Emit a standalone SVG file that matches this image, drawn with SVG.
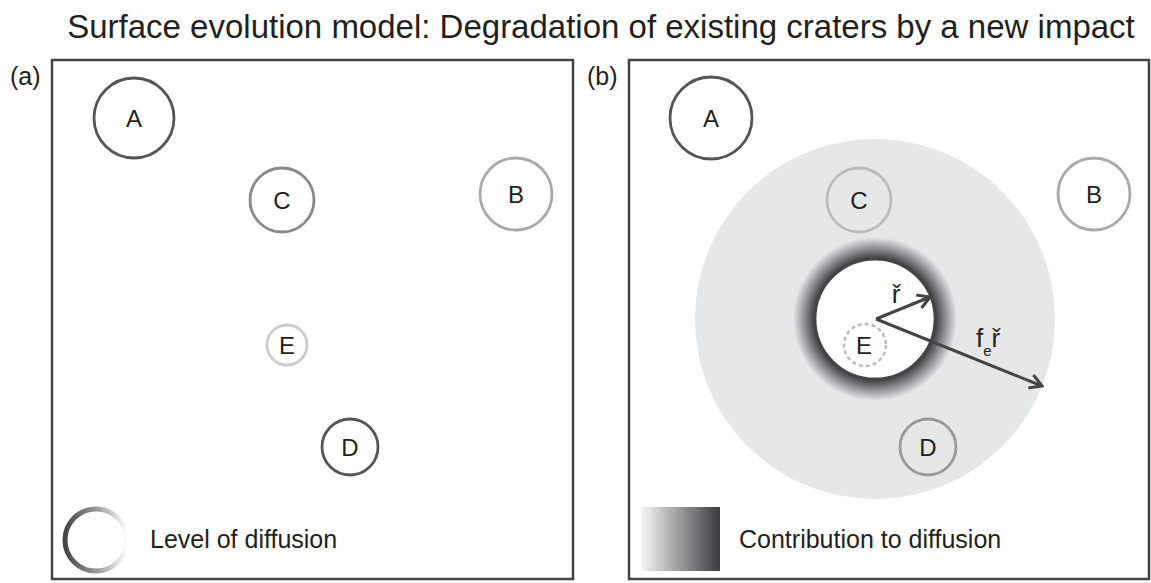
<svg xmlns="http://www.w3.org/2000/svg" width="1151" height="583" viewBox="0 0 1151 583">
<style>
text{font-family:"Liberation Sans",Arial,sans-serif;fill:#231f20}
.lbl{font-size:24px;text-anchor:middle}
.panel{fill:#fff;stroke:#444;stroke-width:2.5}
.cr{fill:none;stroke-width:2.8}
.arrow{fill:none;stroke:#444;stroke-width:3}
</style>
<defs>
<linearGradient id="ringGrad" x1="0" y1="0" x2="1" y2="0">
<stop offset="0" stop-color="#444"/>
<stop offset="0.5" stop-color="#999"/>
<stop offset="1" stop-color="#fff"/>
</linearGradient>
<linearGradient id="barGrad" x1="0" y1="0" x2="1" y2="0">
<stop offset="0" stop-color="#f6f6f8"/>
<stop offset="1" stop-color="#3c3c40"/>
</linearGradient>
<radialGradient id="haloGrad" cx="0.5" cy="0.5" r="0.5">
<stop offset="0" stop-color="#333336"/>
<stop offset="0.72" stop-color="#333336"/>
<stop offset="0.85" stop-color="#88888c"/>
<stop offset="1" stop-color="#e6e7e9"/>
</radialGradient>
<marker id="head" viewBox="0 0 16 16" markerWidth="16" markerHeight="16" markerUnits="userSpaceOnUse" refX="14" refY="8" orient="auto">
<path d="M2,1 L14,8 L2,15" fill="none" stroke="#444" stroke-width="3"/>
</marker>
</defs>

<text x="601" y="38" style="font-size:33px;text-anchor:middle">Surface evolution model: Degradation of existing craters by a new impact</text>

<!-- Panel (a) -->
<g id="panel-a">
<text x="10" y="85" style="font-size:25px">(a)</text>
<rect class="panel" x="52" y="60" width="521" height="519"/>
</g>
<g id="a-A"><circle class="cr" cx="134" cy="118" r="40" stroke="#555"/><text class="lbl" x="134" y="127">A</text></g>
<g id="a-C"><circle class="cr" cx="282" cy="200" r="32" stroke="#888"/><text class="lbl" x="282" y="209">C</text></g>
<g id="a-B"><circle class="cr" cx="516" cy="194" r="36" stroke="#aaa"/><text class="lbl" x="516" y="203">B</text></g>
<g id="a-E"><circle class="cr" cx="287" cy="345" r="20" stroke="#ccc"/><text class="lbl" x="287" y="354">E</text></g>
<g id="a-D"><circle class="cr" cx="350" cy="447" r="28" stroke="#555"/><text class="lbl" x="350" y="456">D</text></g>
<g id="a-legend">
<circle cx="96" cy="540" r="31" fill="none" stroke="url(#ringGrad)" stroke-width="5"/>
<text x="150" y="548" style="font-size:25px">Level of diffusion</text>
</g>

<!-- Panel (b) -->
<g id="panel-b">
<text x="587" y="85" style="font-size:25px">(b)</text>
<rect class="panel" x="629" y="60" width="520" height="519"/>
</g>
<g id="b-zone">
<circle cx="875" cy="319" r="180" fill="#e6e7e9"/>
<circle cx="875" cy="319" r="82" fill="url(#haloGrad)"/>
</g>
<g id="b-A"><circle class="cr" cx="711" cy="118" r="41" stroke="#555"/><text class="lbl" x="711" y="127">A</text></g>
<g id="b-B"><circle class="cr" cx="1094" cy="194" r="36" stroke="#aaa"/><text class="lbl" x="1094" y="203">B</text></g>
<g id="b-C"><circle class="cr" cx="859" cy="200" r="32" stroke="#bbb"/><text class="lbl" x="859" y="209">C</text></g>
<g id="b-D"><circle class="cr" cx="928" cy="447" r="28" stroke="#999"/><text class="lbl" x="928" y="456">D</text></g>
<g id="b-new">
<circle cx="875" cy="319" r="60" fill="#fff" stroke="#444" stroke-width="2.8"/>
</g>
<g id="b-E">
<circle cx="865" cy="345" r="21" fill="none" stroke="#bbb" stroke-width="2.5" stroke-dasharray="4 3"/>
<text class="lbl" x="864" y="354">E</text>
</g>
<g id="connectors">
<line class="arrow" x1="876" y1="319" x2="930" y2="297" marker-end="url(#head)"/>
<line class="arrow" x1="876" y1="319" x2="1042" y2="386" marker-end="url(#head)"/>
</g>
<g id="labels-r">
<text x="896" y="303" style="font-size:26px;text-anchor:middle">ř</text>
<text x="976" y="347" style="font-size:26px">f<tspan style="font-size:15px" dy="9">e</tspan><tspan dy="-9">ř</tspan></text>
</g>
<g id="b-legend">
<rect x="641" y="507" width="79" height="64" fill="url(#barGrad)"/>
<text x="739" y="548" style="font-size:25px">Contribution to diffusion</text>
</g>
</svg>
